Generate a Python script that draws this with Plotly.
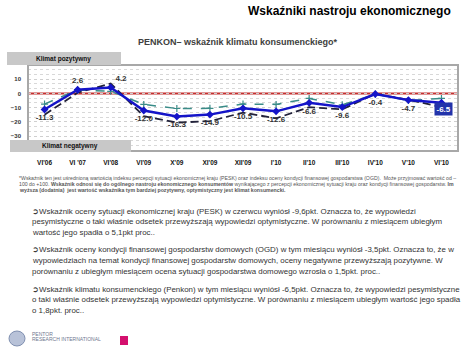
import plotly.graph_objects as go

W, H = 474, 355
def X(px): return px / W
def Y(py): return 1 - py / H

FONT = "Arial, Liberation Sans, sans-serif"

categories = ["VI'06", "VI '07", "VI'08", "VI'09", "X'09", "XI'09", "XII'09",
              "I'10", "II'10", "III'10", "IV'10", "V'10", "VI'10"]
penkon = [-11.3, 2.6, 4.2, -12.0, -16.3, -14.9, -10.5, -12.6, -6.6, -9.6, -0.4, -4.7, -6.5]
ogd = [-7.5, 2.5, 1.5, -7.7, -10.6, -10.5, -7.5, -7.7, -3.5, -8.0, -0.5, -5.0, -3.5]
pesk = [-15.0, 0.5, 7.0, -16.0, -20.5, -19.5, -13.5, -17.5, -9.7, -11.2, -0.3, -4.5, -9.6]
label_pos = ["bottom center", "top center", "top right", "bottom center", "bottom center",
             "bottom center", "bottom center", "bottom center", "bottom center",
             "bottom center", "bottom center", "bottom center", "bottom center"]
y_ticks = [10, 0, -10, -20, -30]

title = "Wskaźniki nastroju ekonomicznego"
subtitle = "PENKON– wskaźnik klimatu konsumenckiego*"
footnote = [
    "*Wskaźnik ten jest uśrednioną wartością indeksu percepcji sytuacji ekonomicznej kraju (PESK) oraz indeksu oceny kondycji finansowej gospodarstwa (OGD).  Może przyjmować wartość od –",
    "100 do +100. <b>Wskaźnik odnosi się do ogólnego nastroju ekonomicznego konsumentów</b> wynikającego z percepcji ekonomicznej sytuacji kraju oraz kondycji finansowej gospodarstw. <b>Im</b>",
    "<b>wyższa (dodatnia)  jest wartość wskaźnika tym bardziej pozytywny, optymistyczny jest klimat konsumencki.</b>",
]
paragraphs = [
    ["➲Wskaźnik oceny sytuacji ekonomicznej kraju (PESK) w czerwcu wyniósł -9,6pkt. Oznacza to, że wypowiedzi",
     "pesymistyczne o taki właśnie odsetek przewyższają wypowiedzi optymistyczne. W porównaniu z miesiącem ubiegłym",
     "wartość jego spadła o 5,1pkt proc.."],
    ["➲Wskaźnik oceny kondycji finansowej gospodarstw domowych (OGD) w tym miesiącu wyniósł -3,5pkt. Oznacza to, że w",
     "wypowiedziach na temat kondycji finansowej gospodarstw domowych, oceny negatywne przewyższają pozytywne. W",
     "porównaniu z ubiegłym miesiącem ocena sytuacji gospodarstwa domowego wzrosła o 1,5pkt. proc.."],
    ["➲Wskaźnik klimatu konsumenckiego (Penkon) w tym miesiącu wyniósł -6,5pkt. Oznacza to, że wypowiedzi pesymistyczne",
     "o taki właśnie odsetek przewyższają wypowiedzi optymistyczne. W porównaniu z miesiącem ubiegłym wartość jego spadła",
     "o 1,8pkt. proc.."],
]

fig = go.Figure()
fig.add_trace(go.Scatter(
    x=categories, y=ogd, mode="lines+markers",
    line=dict(color="#3a8c88", width=1.5, dash="dash"),
    marker=dict(symbol="cross-thin", size=5, line=dict(color="#3a8c88", width=1.2)),
    hoverinfo="skip", showlegend=False))
fig.add_trace(go.Scatter(
    x=categories, y=pesk, mode="lines",
    line=dict(color="#22223a", width=1.8, dash="8px,4px"),
    hoverinfo="skip", showlegend=False))
texts = [f"{v:.1f}" for v in penkon]
texts[-1] = ""
fig.add_trace(go.Scatter(
    x=categories, y=penkon, mode="lines+markers+text",
    line=dict(color="#1414c8", width=2.5),
    marker=dict(symbol="diamond", size=6, color="#1414c8"),
    text=texts, textposition=label_pos,
    textfont=dict(family=FONT, size=8, color="#333333", weight="bold"),
    hoverinfo="skip", showlegend=False))

shapes = []
shapes.append(dict(type="line", xref="paper", yref="y", x0=X(28), x1=X(458), y0=0, y1=0,
                   line=dict(color="#c43030", width=2), layer="below"))
shapes.append(dict(type="rect", xref="paper", yref="paper", x0=X(28), x1=X(458), y0=Y(151), y1=Y(65),
                   line=dict(color="#a8a8a8", width=2), fillcolor="rgba(0,0,0,0)", layer="above"))
shapes.append(dict(type="rect", xref="paper", yref="paper", x0=X(7), x1=X(121), y0=Y(65), y1=Y(52),
                   line=dict(width=0), fillcolor="#c8c8c8", layer="above"))
shapes.append(dict(type="rect", xref="paper", yref="paper", x0=X(10), x1=X(131), y0=Y(152), y1=Y(140),
                   line=dict(width=0), fillcolor="#c8c8c8", layer="above"))
shapes.append(dict(type="circle", xref="paper", yref="paper", x0=X(9), x1=X(25), y0=Y(346), y1=Y(331),
                   line=dict(color="#7f8fb0", width=1), fillcolor="#b8c2d8", layer="above"))
shapes.append(dict(type="rect", xref="paper", yref="paper", x0=X(120), x1=X(128), y0=Y(345), y1=Y(336),
                   line=dict(width=0), fillcolor="#d4106e", layer="above"))

ann = []
ann.append(dict(text="<b>" + title + "</b>", x=X(246), y=Y(11), xanchor="left", yanchor="middle",
                font=dict(family=FONT, size=12, color="#000000")))
ann.append(dict(text="<b>" + subtitle + "</b>", x=X(136), y=Y(42), xanchor="left", yanchor="middle",
                font=dict(family=FONT, size=9, color="#404040")))
ann.append(dict(text="<b>Klimat pozytywny</b>", x=X(64), y=Y(58.5), xanchor="center", yanchor="middle",
                font=dict(family=FONT, size=6.5, color="#111111")))
ann.append(dict(text="<b>Klimat negatywny</b>", x=X(70), y=Y(146), xanchor="center", yanchor="middle",
                font=dict(family=FONT, size=6.5, color="#111111")))
ann.append(dict(text="<b>-6.5</b>", x=categories[-1], y=penkon[-1], xref="x", yref="y",
                xanchor="center", yanchor="middle", xshift=2, yshift=-6,
                bgcolor="#2233aa", borderpad=1.5,
                font=dict(family=FONT, size=8, color="#ffffff")))
for i, line in enumerate(footnote):
    ann.append(dict(text=line, x=X(17), y=Y(178 + 6.2 * i), xanchor="left", yanchor="middle",
                    font=dict(family=FONT, size=5.2, color="#555555")))
starts = [211, 250, 289]
for p, lines in enumerate(paragraphs):
    for i, line in enumerate(lines):
        ann.append(dict(text=line, x=X(30), y=Y(starts[p] + 10.8 * i), xanchor="left", yanchor="middle",
                        font=dict(family=FONT, size=7.9, color="#333333")))
ann.append(dict(text="PENTOR", x=X(30), y=Y(333.5), xanchor="left", yanchor="middle",
                font=dict(family=FONT, size=5, color="#707890")))
ann.append(dict(text="RESEARCH INTERNATIONAL", x=X(30), y=Y(338.5), xanchor="left", yanchor="middle",
                font=dict(family=FONT, size=5, color="#707890")))
for a in ann:
    a.setdefault("xref", "paper")
    a.setdefault("yref", "paper")
    a["showarrow"] = False

fig.update_layout(
    width=W, height=H, margin=dict(l=0, r=0, t=0, b=0),
    paper_bgcolor="white", plot_bgcolor="white",
    shapes=shapes, annotations=ann,
    xaxis=dict(domain=[X(28), X(458)], type="category", range=[-0.5, 12.5],
               showgrid=False, zeroline=False, showline=False, ticks="",
               tickfont=dict(family=FONT, size=6.5, color="#111111", weight="bold"),
               ticklabelstandoff=6),
    yaxis=dict(domain=[Y(151), Y(65)], range=[-40.5, 20], tickvals=y_ticks,
               showgrid=True, gridcolor="#cfcfcf", griddash="dot", gridwidth=1,
               minor=dict(dtick=10 / 3, tick0=0, showgrid=True, gridcolor="#d8d8d8", griddash="dot"),
               zeroline=False, showline=False, ticks="",
               tickfont=dict(family=FONT, size=6, color="#333333", weight="bold"),
               ticklabelstandoff=6),
)
fig.write_html("out.html", config={"displayModeBar": False},
               post_script="document.body.style.margin='0';")
